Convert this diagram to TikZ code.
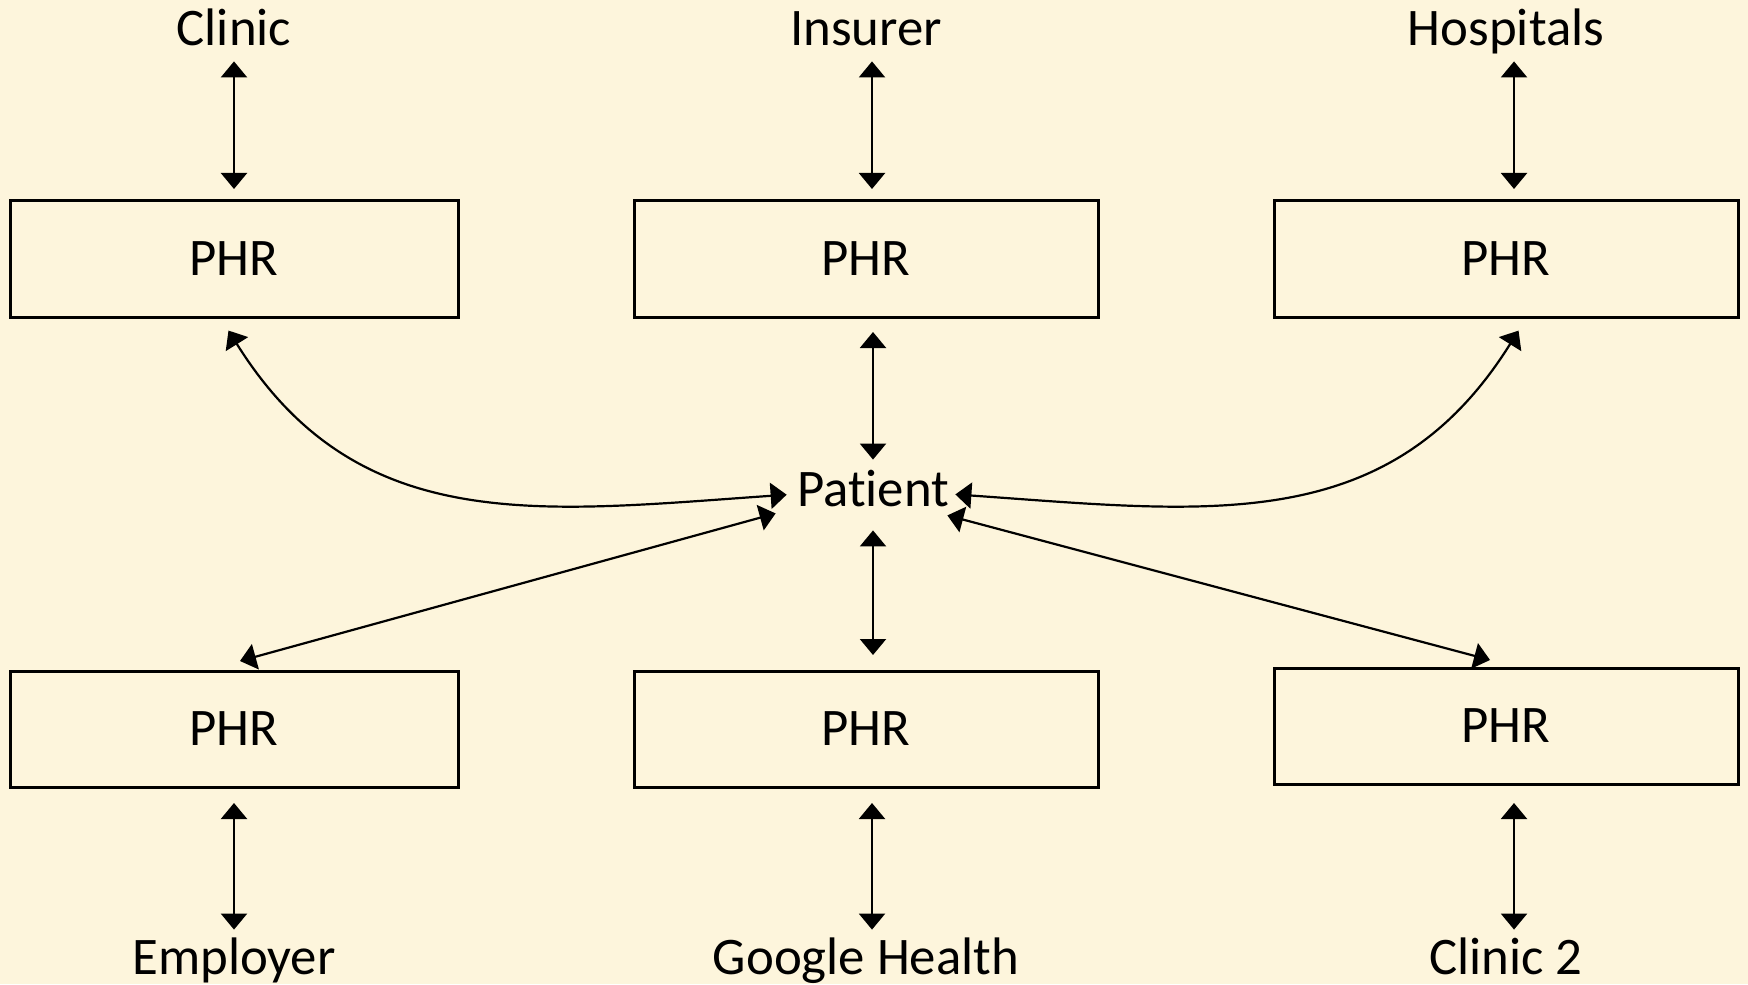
\documentclass[tikz,border=0pt]{standalone}
\usepackage{fontspec}
\setmainfont[Ligatures=NoCommon]{Carlito}
\usepackage{xcolor}
\definecolor{phrBack}{HTML}{FDF5DC}
\usetikzlibrary{arrows.meta}
\newcommand{\phrfont}{\fontsize{26.4pt}{31pt}\selectfont}
\tikzset{
    record/.style={
        draw=black,
        rectangle,
        line width=1.5pt,
        minimum height=58pt,
        minimum width=232pt,
        outer sep=0pt,
        font=\phrfont
    },
    party/.style={
        anchor=base,
        inner sep=0pt,
        text height=17pt,
        text depth=0pt,
        font=\phrfont
    },
    link/.style={
        {Triangle[length=8pt,width=13pt]}-{Triangle[length=8pt,width=13pt]},
        line width=1.1pt,
        color=black
    }
}

\begin{document}
\begin{tikzpicture}[x=0.5pt, y=0.5pt]
    \useasboundingbox[fill=phrBack] (0,0) rectangle (1748,-984);

    % Patient in the middle
    \node[party] (patient) at (873,-506) {Patient};

    % PHR records
    \node[record, minimum width=224pt] (phrA) at (234,-259) {PHR};
    \node[record] (phrB) at (866,-259) {PHR};
    \node[record] (phrC) at (1506,-259) {PHR};
    \node[record, minimum width=224pt] (phrD) at (234,-729) {PHR};
    \node[record] (phrE) at (866,-729) {PHR};
    \node[record] (phrF) at (1506,-726) {PHR};

    % Record holders
    \node[party] (clinic) at (234,-46) {Clinic};
    \node[party] (insurer) at (866,-46) {Insurer};
    \node[party] (hospitals) at (1506,-46) {Hospitals};
    \node[party] (employer) at (234,-974) {Employer};
    \node[party] (google) at (866,-974) {Google Health};
    \node[party] (clinicB) at (1506,-974) {Clinic 2};

    % Holder <-> record
    \draw[link, shorten <=7.5pt, shorten >=6pt] (clinic.south) -- (phrA.north);
    \draw[link, shorten <=7.5pt, shorten >=6pt] ([xshift=3pt]insurer.south) -- ([xshift=3pt]phrB.north);
    \draw[link, shorten <=7.5pt, shorten >=6pt] ([xshift=4pt]hospitals.south) -- ([xshift=4pt]phrC.north);
    \draw[link, shorten <=8pt, shorten >=5pt] (phrD.south) -- (employer.north);
    \draw[link, shorten <=8pt, shorten >=5pt] ([xshift=3pt]phrE.south) -- ([xshift=3pt]google.north);
    \draw[link, shorten <=9.5pt, shorten >=5pt] ([xshift=4pt]phrF.south) -- ([xshift=4pt]clinicB.north);

    % Record <-> patient
    \draw[link, shorten <=7.5pt, shorten >=6pt] (phrB.south -| patient) -- (patient.north);
    \draw[link, shorten <=12pt, shorten >=8pt] (patient.south) -- (phrE.north -| patient);
    \draw[link, shorten <=8pt, shorten >=5pt] ([xshift=-7pt]phrA.south)
        to[out=-58, in=184, looseness=1.1] ([yshift=-2.5pt]patient.west);
    \draw[link, shorten <=8pt, shorten >=3pt] ([xshift=10.5pt]phrC.south)
        to[out=-122, in=-4, looseness=1.1] ([yshift=-2.5pt]patient.east);
    \draw[link] ([shift={(3pt,5pt)}]phrD.north) -- ([shift={(-10.5pt,-3.5pt)}]patient.south west);
    \draw[link] ([shift={(-8pt,4pt)}]phrF.north) -- ([shift={(-1pt,-4.5pt)}]patient.south east);
\end{tikzpicture}
\end{document}
